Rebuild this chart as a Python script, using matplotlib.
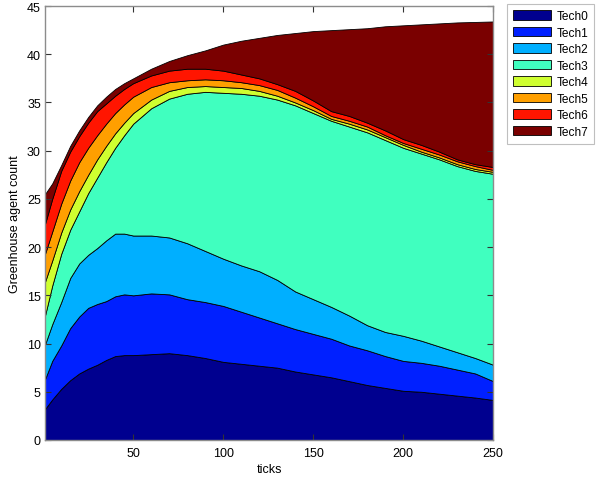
import matplotlib
matplotlib.use("Agg")
import matplotlib.pyplot as plt
import numpy as np

ticks = [1, 5, 10, 15, 20, 25, 30, 35, 40, 45, 50, 60, 70, 80, 90, 100, 110, 120,
         130, 140, 150, 160, 170, 180, 190, 200, 210, 220, 230, 240, 250]

tech0 = [3.2, 4.2, 5.3, 6.2, 6.9, 7.4, 7.8, 8.3, 8.7, 8.8, 8.8, 8.9, 9.0, 8.8, 8.5, 8.1,
         7.9, 7.7, 7.5, 7.1, 6.8, 6.5, 6.1, 5.7, 5.4, 5.1, 5.0, 4.8, 4.6, 4.4, 4.15]
tech1 = [3.1, 4.0, 4.5, 5.4, 5.9, 6.3, 6.3, 6.1, 6.2, 6.3, 6.2, 6.3, 6.1, 5.8, 5.8, 5.8,
         5.4, 5.0, 4.6, 4.4, 4.2, 4.0, 3.7, 3.6, 3.3, 3.1, 3.0, 2.9, 2.7, 2.5, 1.95]
tech2 = [3.6, 3.8, 4.5, 5.2, 5.5, 5.5, 5.8, 6.3, 6.5, 6.3, 6.2, 6.0, 5.9, 5.8, 5.3, 4.9,
         4.8, 4.8, 4.5, 3.9, 3.6, 3.3, 3.1, 2.6, 2.5, 2.6, 2.3, 2.0, 1.8, 1.6, 1.7]
tech3 = [3.0, 4.0, 5.0, 5.0, 5.4, 6.4, 7.3, 8.1, 8.9, 10.2, 11.6, 13.2, 14.4, 15.5, 16.5, 17.2,
         17.8, 18.2, 18.7, 19.3, 19.3, 19.3, 19.6, 20.0, 19.9, 19.5, 19.4, 19.4, 19.3, 19.4, 19.8]
tech4 = [3.5, 2.6, 2.2, 2.1, 2.1, 1.9, 1.9, 1.7, 1.5, 1.3, 1.1, 0.9, 0.8, 0.7, 0.6, 0.6,
         0.6, 0.5, 0.4, 0.3, 0.3, 0.2, 0.3, 0.3, 0.3, 0.3, 0.2, 0.2, 0.2, 0.2, 0.2]
tech5 = [2.9, 3.0, 3.0, 3.0, 3.0, 2.8, 2.5, 2.3, 2.1, 1.9, 1.7, 1.3, 0.9, 0.7, 0.7, 0.7,
         0.6, 0.6, 0.6, 0.5, 0.4, 0.3, 0.3, 0.3, 0.2, 0.2, 0.3, 0.3, 0.3, 0.3, 0.2]
tech6 = [3.1, 3.4, 3.4, 3.0, 2.7, 2.6, 2.5, 2.1, 1.8, 1.6, 1.4, 1.2, 1.2, 1.2, 1.1, 1.0,
         0.8, 0.7, 0.6, 0.7, 0.6, 0.5, 0.5, 0.4, 0.5, 0.4, 0.4, 0.3, 0.2, 0.2, 0.3]
tech7 = [3.1, 1.6, 0.6, 0.6, 0.6, 0.6, 0.6, 0.7, 0.7, 0.6, 0.5, 0.7, 1.0, 1.4, 1.9, 2.7,
         3.5, 4.2, 5.1, 6.0, 7.2, 8.4, 9.0, 9.8, 10.8, 11.8, 12.5, 13.3, 14.2, 14.75, 15.1]

labels = ["Tech0", "Tech1", "Tech2", "Tech3", "Tech4", "Tech5", "Tech6", "Tech7"]
colors = ["#00008F", "#0020FF", "#00AFFF", "#40FFBF", "#CFFF30", "#FF9F00", "#FF1500", "#7A0000"]

plt.rcParams["font.family"] = ["Liberation Sans", "DejaVu Sans"]

fig = plt.figure(figsize=(6.0, 4.81), dpi=100)
ax = fig.add_axes([0.075, 0.0832, 0.747, 0.9022])

series = [tech0, tech1, tech2, tech3, tech4, tech5, tech6, tech7]
ax.stackplot(ticks, *series, colors=colors, labels=labels,
             edgecolor="black", linewidth=0.6)

ax.set_xlim(1, 250)
ax.set_ylim(0, 45)
ax.set_xticks([50, 100, 150, 200, 250])
ax.set_yticks(np.arange(0, 46, 5))
ax.tick_params(direction="in", top=True, right=True, labelsize=9, length=4,
               color="#333333")
ax.tick_params(axis="x", pad=5)
ax.tick_params(axis="y", pad=3)
for s in ax.spines.values():
    s.set_color("#8c8c8c")
    s.set_linewidth(1.0)

ax.set_xlabel("ticks", fontsize=9, labelpad=3)
ax.set_ylabel("Greenhouse agent count", fontsize=9, labelpad=4)

leg = ax.legend(loc="upper left", bbox_to_anchor=(507 / 600, 1 - 5 / 481),
                bbox_transform=fig.transFigure, fontsize=8.6, fancybox=False,
                frameon=True, edgecolor="#b0b0b0", borderaxespad=0,
                handlelength=3.2, handleheight=0.85, labelspacing=0.38,
                handletextpad=0.42, borderpad=0.5)
leg.get_frame().set_linewidth(0.8)

fig.savefig("out.png", dpi=100)
